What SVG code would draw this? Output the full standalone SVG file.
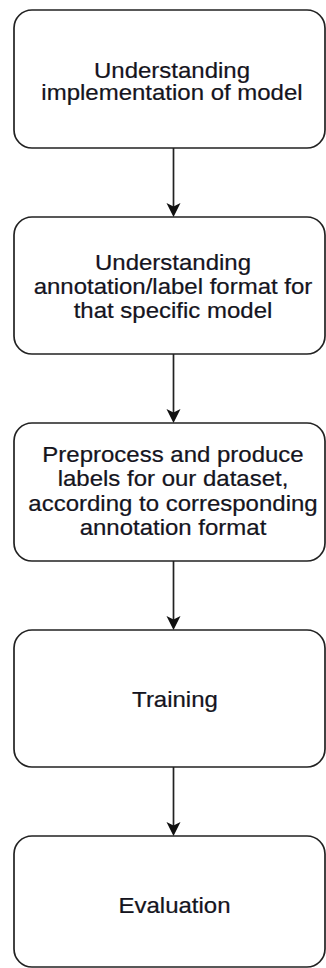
<svg xmlns="http://www.w3.org/2000/svg" width="326" height="968" viewBox="0 0 326 968">
<style>
.box{fill:#fff;stroke:#222;stroke-width:1.7}
.lbl{font-family:"Liberation Sans",Arial,sans-serif;font-size:24px;fill:#141420;stroke:#141420;stroke-width:0.25;text-anchor:middle}
.edge{stroke:#222;stroke-width:1.7;fill:none}
.head{fill:#111;stroke:none}
</style>
<defs>
<polygon id="ah" class="head" points="0,0 -7,-14 0,-10.5 7,-14"/>
</defs>
<rect width="326" height="968" fill="#fff"/>
<g id="connectors">
<line class="edge" x1="173.5" y1="148" x2="173.5" y2="207"/>
<use href="#ah" x="173.5" y="217"/>
<line class="edge" x1="173.5" y1="354" x2="173.5" y2="413"/>
<use href="#ah" x="173.5" y="423"/>
<line class="edge" x1="173.5" y1="561" x2="173.5" y2="620"/>
<use href="#ah" x="173.5" y="630"/>
<line class="edge" x1="173.5" y1="767" x2="173.5" y2="826"/>
<use href="#ah" x="173.5" y="836"/>
</g>
<g id="n1">
<rect class="box" x="14" y="10" width="311" height="138" rx="18" ry="18"/>
<text class="lbl" transform="translate(172,77.7) scale(1,0.93)"><tspan x="0" y="0">Understanding</tspan><tspan x="0" y="24.5">implementation of model</tspan></text>
</g>
<g id="n2">
<rect class="box" x="14" y="217" width="311" height="137" rx="18" ry="18"/>
<text class="lbl" transform="translate(173,270) scale(1,0.93)"><tspan x="0" y="0">Understanding</tspan><tspan x="0" y="26">annotation/label format for</tspan><tspan x="0" y="52">that specific model</tspan></text>
</g>
<g id="n3">
<rect class="box" x="14" y="423" width="311" height="138" rx="18" ry="18"/>
<text class="lbl" transform="translate(173,461.7) scale(1,0.93)"><tspan x="0" y="0">Preprocess and produce</tspan><tspan x="0" y="26.5">labels for our dataset,</tspan><tspan x="0" y="52.5">according to corresponding</tspan><tspan x="0" y="78.3">annotation format</tspan></text>
</g>
<g id="n4">
<rect class="box" x="14" y="630" width="311" height="137" rx="18" ry="18"/>
<text class="lbl" transform="translate(175,706.7) scale(1,0.93)">Training</text>
</g>
<g id="n5">
<rect class="box" x="14" y="836" width="311" height="131" rx="18" ry="18"/>
<text class="lbl" transform="translate(174.5,912.5) scale(1,0.93)">Evaluation</text>
</g>
</svg>
